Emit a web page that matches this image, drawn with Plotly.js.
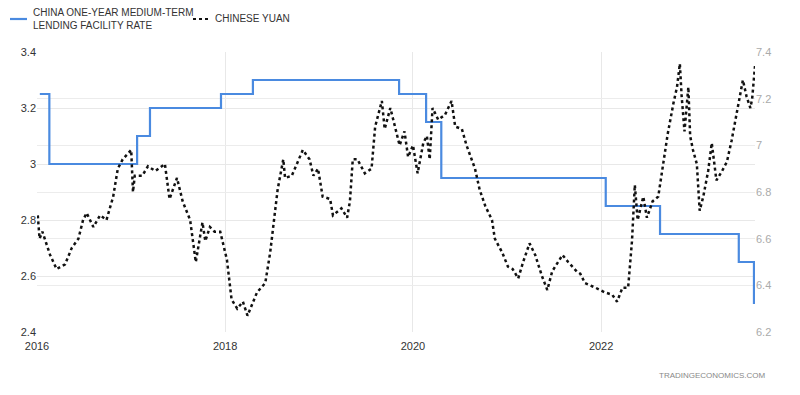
<!DOCTYPE html>
<html>
<head>
<meta charset="utf-8">
<script src="https://cdn.plot.ly/plotly-3.0.1.min.js"></script>
<style>html,body{margin:0;padding:0;background:#fff;}#chart{width:800px;height:395px;}</style>
</head>
<body>
<div id="chart"></div>
<script>
const rateName = 'CHINA ONE-YEAR MEDIUM-TERM<br>LENDING FACILITY RATE';
const yuanName = 'CHINESE YUAN';

const rateDates = ['2016-01-12','2016-02-18','2017-01-24','2017-03-15','2017-12-16','2018-04-19','2019-11-08','2020-02-21','2020-04-20','2022-01-19','2022-08-18','2023-06-20','2023-08-18'];
const rateValues = [3.25,3.00,3.10,3.20,3.25,3.30,3.25,3.15,2.95,2.85,2.75,2.65,2.50];

// Chinese yuan (USD/CNY), time as decimal years
const yuanTimes = [
2016.01,2016.03,2016.06,2016.14,2016.21,2016.30,2016.37,2016.44,2016.49,2016.53,
2016.60,2016.67,2016.74,2016.81,2016.86,2016.91,2017.00,2017.02,2017.04,2017.12,
2017.18,2017.26,2017.36,2017.41,2017.49,2017.55,2017.63,2017.69,2017.76,2017.79,
2017.84,2017.89,2017.95,2018.02,2018.07,2018.13,2018.19,2018.24,2018.34,2018.43,
2018.48,2018.51,2018.56,2018.62,2018.64,2018.71,2018.83,2018.90,2018.94,2018.99,
2019.04,2019.12,2019.15,2019.24,2019.30,2019.33,2019.36,2019.41,2019.49,2019.56,
2019.60,2019.67,2019.70,2019.76,2019.81,2019.86,2019.91,2019.95,2020.00,2020.05,
2020.11,2020.15,2020.18,2020.21,2020.27,2020.34,2020.41,2020.45,2020.52,2020.57,
2020.66,2020.71,2020.77,2020.84,2020.87,2020.95,2021.01,2021.06,2021.12,2021.17,
2021.24,2021.30,2021.37,2021.43,2021.48,2021.59,2021.65,2021.74,2021.78,2021.83,
2021.94,2022.04,2022.12,2022.17,2022.23,2022.29,2022.33,2022.36,2022.39,2022.45,
2022.49,2022.55,2022.61,2022.66,2022.71,2022.77,2022.81,2022.84,2022.86,2022.89,
2022.93,2022.95,2022.98,2023.02,2023.05,2023.09,2023.14,2023.18,2023.23,2023.29,
2023.34,2023.39,2023.43,2023.48,2023.51,2023.55,2023.59,2023.61,2023.64];
const yuanValues = [
6.70,6.60,6.63,6.53,6.47,6.49,6.56,6.60,6.68,6.71,
6.65,6.70,6.68,6.78,6.90,6.94,6.98,6.80,6.87,6.87,
6.91,6.89,6.92,6.77,6.86,6.76,6.68,6.50,6.67,6.59,
6.65,6.63,6.63,6.51,6.34,6.30,6.33,6.27,6.37,6.41,
6.54,6.65,6.81,6.94,6.86,6.87,6.98,6.94,6.87,6.90,
6.78,6.77,6.70,6.73,6.69,6.76,6.94,6.94,6.88,6.90,
7.08,7.19,7.07,7.16,7.08,7.00,7.06,6.95,7.00,6.88,
7.01,7.04,6.94,7.16,7.11,7.13,7.19,7.08,7.07,7.00,
6.90,6.81,6.74,6.68,6.60,6.54,6.48,6.47,6.43,6.50,
6.58,6.53,6.44,6.38,6.46,6.53,6.50,6.46,6.45,6.41,
6.39,6.37,6.36,6.33,6.39,6.39,6.59,6.83,6.68,6.78,
6.69,6.76,6.78,6.91,7.05,7.18,7.25,7.35,7.21,7.06,
7.25,7.04,6.98,6.92,6.72,6.78,6.89,7.01,6.85,6.89,
6.93,7.02,7.10,7.22,7.28,7.21,7.16,7.20,7.34];

const leftTicks = [2.4,2.6,2.8,3,3.2,3.4];
const rightTicks = [6.2,6.4,6.6,6.8,7,7.2,7.4];
const yearTicks = ['2016-01-01','2018-01-01','2020-01-01','2022-01-01'];

function decimalYearToDate(t) {
  const y = Math.floor(t);
  const start = Date.UTC(y, 0, 1), end = Date.UTC(y + 1, 0, 1);
  return new Date(start + (t - y) * (end - start)).toISOString().slice(0, 10);
}
const yuanDates = yuanTimes.map(decimalYearToDate);

const FONT = 'Liberation Sans, Arial, sans-serif';
const BLUE = '#4a8ae0';

const traces = [
  {x: rateDates, y: rateValues, name: rateName, type: 'scatter', mode: 'lines',
   line: {shape: 'hv', color: BLUE, width: 2.2}, yaxis: 'y', showlegend: false},
  {x: yuanDates, y: yuanValues, name: yuanName, type: 'scatter', mode: 'lines',
   line: {color: '#111', width: 2.5, dash: 'dot'}, yaxis: 'y2', showlegend: false}
];

// plot area: x 37..755 px, y 52..332 px
const px = v => (v - 37) / 718;
const py = v => (332 - v) / 280;

const layout = {
  width: 800, height: 395,
  margin: {l: 37, r: 45, t: 52, b: 63},
  paper_bgcolor: '#fff', plot_bgcolor: '#fff',
  font: {family: FONT, color: '#333', size: 11},
  showlegend: false,
  xaxis: {type: 'date', range: ['2016-01-01','2023-08-22'], tickvals: yearTicks, tickformat: '%Y',
          showgrid: true, gridcolor: '#e8e8e8', gridwidth: 1, zeroline: false, showline: false,
          ticks: '', ticklabelstandoff: 6, tickfont: {family: FONT, size: 11, color: '#333'}},
  yaxis: {range: [2.4, 3.4], tickvals: leftTicks, showgrid: true, gridcolor: '#e8e8e8', zeroline: false,
          showline: false, ticks: '', tickfont: {family: FONT, size: 11, color: '#333'}},
  yaxis2: {range: [6.2, 7.4], tickvals: rightTicks, overlaying: 'y', side: 'right', showgrid: true,
           gridcolor: '#ececec', zeroline: false, showline: false, ticks: '',
           tickfont: {family: FONT, size: 11, color: '#aaa'}},
  shapes: [
    {type: 'line', xref: 'paper', yref: 'paper', x0: px(10), x1: px(27), y0: py(19), y1: py(19),
     line: {color: BLUE, width: 2.2}},
    {type: 'line', xref: 'paper', yref: 'paper', x0: px(193), x1: px(210), y0: py(19), y1: py(19),
     line: {color: '#111', width: 2.2, dash: 'dot'}}
  ],
  annotations: [
    {text: rateName, xref: 'paper', yref: 'paper', x: px(31), y: py(19.5), xanchor: 'left', yanchor: 'middle',
     align: 'left', showarrow: false, font: {family: FONT, size: 10, color: '#333'}},
    {text: yuanName, xref: 'paper', yref: 'paper', x: px(213), y: py(19), xanchor: 'left', yanchor: 'middle',
     align: 'left', showarrow: false, font: {family: FONT, size: 10, color: '#333'}},
    {text: 'TRADINGECONOMICS.COM', xref: 'paper', yref: 'paper', x: px(768), y: py(375), xanchor: 'right', yanchor: 'middle',
     showarrow: false, font: {family: FONT, size: 8, color: '#888'}}
  ]
};

Plotly.newPlot('chart', traces, layout, {displayModeBar: false, staticPlot: true});
</script>
</body>
</html>
